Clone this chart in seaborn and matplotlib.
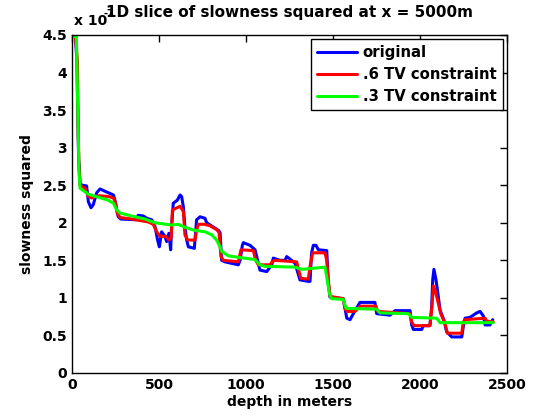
import matplotlib
matplotlib.use("Agg")
import matplotlib.pyplot as plt
import seaborn as sns
import pandas as pd

# Profilo originale (blu)
depth_orig = [0, 20, 28, 33, 38, 42, 46, 60, 84, 94, 109, 122, 142, 161, 199, 238, 247, 257, 266, 280,
              370, 380, 410, 430, 458, 477, 492, 502, 515, 534, 544, 557, 567, 573, 582, 605, 621, 630,
              640, 649, 659, 669, 703, 716, 736, 764, 774, 841, 851, 860, 879, 956, 966, 979, 985, 1023,
              1052, 1071, 1080, 1119, 1148, 1157, 1195, 1224, 1234, 1262, 1282, 1310, 1358, 1368, 1377,
              1387, 1402, 1416, 1464, 1473, 1483, 1559, 1569, 1579, 1598, 1617, 1655, 1741, 1751, 1828,
              1856, 1943, 1952, 1962, 2010, 2019, 2057, 2067, 2073, 2080, 2092, 2105, 2115, 2138, 2153,
              2182, 2240, 2249, 2259, 2287, 2306, 2326, 2345, 2364, 2374, 2402, 2418]
vals_orig = [4.48, 4.48, 4.15, 3.5, 2.84, 2.75, 2.52, 2.50, 2.49, 2.28, 2.20, 2.24, 2.40, 2.45, 2.41, 2.37,
             2.30, 2.17, 2.08, 2.05, 2.04, 2.10, 2.09, 2.06, 2.04, 1.95, 1.77, 1.68, 1.88, 1.82, 1.75,
             1.86, 1.64, 1.97, 2.26, 2.30, 2.37, 2.35, 2.21, 1.95, 1.77, 1.68, 1.66, 2.04, 2.08, 2.06,
             2.00, 1.90, 1.87, 1.50, 1.48, 1.44, 1.50, 1.70, 1.735, 1.70, 1.64, 1.46, 1.37, 1.35, 1.44,
             1.53, 1.50, 1.50, 1.55, 1.50, 1.46, 1.24, 1.22, 1.22, 1.60, 1.70, 1.70, 1.64, 1.63, 1.20,
             1.01, 0.99, 0.86, 0.73, 0.71, 0.79, 0.94, 0.94, 0.79, 0.77, 0.83, 0.83, 0.64, 0.58, 0.58,
             0.63, 0.63, 0.88, 1.24, 1.38, 1.24, 1.02, 0.84, 0.70, 0.55, 0.48, 0.48, 0.62, 0.73, 0.74,
             0.77, 0.80, 0.82, 0.76, 0.64, 0.64, 0.71]

# Vincolo TV .6 (rosso)
depth_tv6 = [0, 20, 26, 31, 35, 40, 46, 75, 94, 113, 132, 151, 209, 238, 251, 260, 276, 343, 439, 467,
             487, 506, 540, 557, 570, 577, 621, 640, 649, 665, 707, 716, 726, 760, 793, 831, 845, 856,
             870, 956, 971, 1042, 1056, 1071, 1138, 1151, 1165, 1291, 1301, 1315, 1358, 1368, 1383,
             1454, 1464, 1473, 1483, 1559, 1569, 1579, 1626, 1655, 1747, 1757, 1943, 1952, 1966, 2057,
             2067, 2077, 2086, 2105, 2119, 2144, 2157, 2240, 2249, 2259, 2374, 2383, 2421]
vals_tv6 = [4.48, 4.48, 4.3, 4.15, 3.3, 2.75, 2.50, 2.46, 2.35, 2.33, 2.35, 2.36, 2.35, 2.33, 2.26, 2.13,
            2.07, 2.05, 2.01, 1.98, 1.88, 1.82, 1.82, 1.77, 1.80, 2.17, 2.22, 2.15, 1.84, 1.77, 1.77,
            1.90, 1.98, 1.98, 1.96, 1.91, 1.87, 1.55, 1.50, 1.48, 1.64, 1.63, 1.50, 1.44, 1.44, 1.48,
            1.50, 1.48, 1.39, 1.26, 1.25, 1.42, 1.60, 1.60, 1.50, 1.24, 1.02, 0.99, 0.86, 0.82, 0.82,
            0.89, 0.89, 0.82, 0.79, 0.68, 0.63, 0.63, 0.84, 1.16, 1.11, 0.93, 0.79, 0.66, 0.53, 0.53,
            0.68, 0.71, 0.73, 0.69, 0.68]

# Vincolo TV .3 (verde)
depth_tv3 = [0, 25, 31, 40, 46, 94, 151, 209, 238, 257, 276, 343, 420, 477, 573, 610, 649, 703, 764, 803,
             831, 851, 860, 898, 956, 1052, 1080, 1109, 1282, 1320, 1368, 1454, 1464, 1479, 1492, 1559,
             1575, 1751, 1770, 1933, 1952, 2096, 2115, 2421]
vals_tv3 = [4.48, 4.48, 3.77, 2.70, 2.46, 2.38, 2.34, 2.30, 2.26, 2.17, 2.13, 2.09, 2.05, 2.00, 1.97,
            1.98, 1.94, 1.90, 1.88, 1.84, 1.77, 1.68, 1.62, 1.56, 1.54, 1.51, 1.44, 1.42, 1.41, 1.38,
            1.39, 1.41, 1.28, 1.06, 0.99, 0.98, 0.86, 0.85, 0.80, 0.79, 0.74, 0.73, 0.67, 0.67]

labels = ["original", ".6 TV constraint", ".3 TV constraint"]
colori = ["#0000ff", "#ff0000", "#00ff00"]

df = pd.concat([
    pd.DataFrame({"depth": depth_orig, "s2": vals_orig, "serie": labels[0]}),
    pd.DataFrame({"depth": depth_tv6, "s2": vals_tv6, "serie": labels[1]}),
    pd.DataFrame({"depth": depth_tv3, "s2": vals_tv3, "serie": labels[2]}),
])

sns.set_theme(style="white")
plt.rcParams['font.family'] = ['DejaVu Sans']
plt.rcParams['font.weight'] = 'bold'
plt.rcParams['text.color'] = 'black'
plt.rcParams['axes.labelcolor'] = 'black'
plt.rcParams['xtick.color'] = 'black'
plt.rcParams['ytick.color'] = 'black'

fig = plt.figure(figsize=(5.6, 4.2), dpi=100)
ax = fig.add_axes([72/560, 1 - 373/420, 435/560, 338/420])

sns.lineplot(data=df, x="depth", y="s2", hue="serie", hue_order=labels,
             palette=dict(zip(labels, colori)), linewidth=2.2, sort=False,
             estimator=None, ax=ax)

ax.set_xlim(0, 2500)
ax.set_ylim(0, 4.5)
ax.set_xticks([0, 500, 1000, 1500, 2000, 2500])
ax.set_yticks([0, 0.5, 1, 1.5, 2, 2.5, 3, 3.5, 4, 4.5])
ax.set_yticklabels(["0", "0.5", "1", "1.5", "2", "2.5", "3", "3.5", "4", "4.5"])
ax.tick_params(direction="in", top=True, right=True, length=5, width=1,
               labelsize=10, colors="black")
for lab in ax.get_xticklabels() + ax.get_yticklabels():
    lab.set_fontweight("bold")
for sp in ax.spines.values():
    sp.set_color("black")
    sp.set_linewidth(1)

ax.set_xlabel("depth in meters", fontsize=10, fontweight="bold", labelpad=2)
ax.set_ylabel("slowness squared", fontsize=10, fontweight="bold", labelpad=6)
ax.set_title("1D slice of slowness squared at x = 5000m", fontsize=11, fontweight="bold", pad=13)

# moltiplicatore dell'asse y (in parte coperto dal titolo, come nell'originale)
fig.text(74/560, 1 - 25/420, "x 10", fontsize=10, fontweight="bold")
fig.text(103/560, 1 - 17/420, "-7", fontsize=7, fontweight="bold")

leg = ax.legend(loc="upper right", frameon=True, fancybox=False,
                edgecolor="black", handlelength=2.7, handletextpad=0.4,
                borderaxespad=0.3, labelspacing=0.45, prop={"weight": "bold", "size": 10.7})
leg.get_frame().set_linewidth(1)
leg.get_frame().set_alpha(1)

plt.savefig("out.png", dpi=100)
